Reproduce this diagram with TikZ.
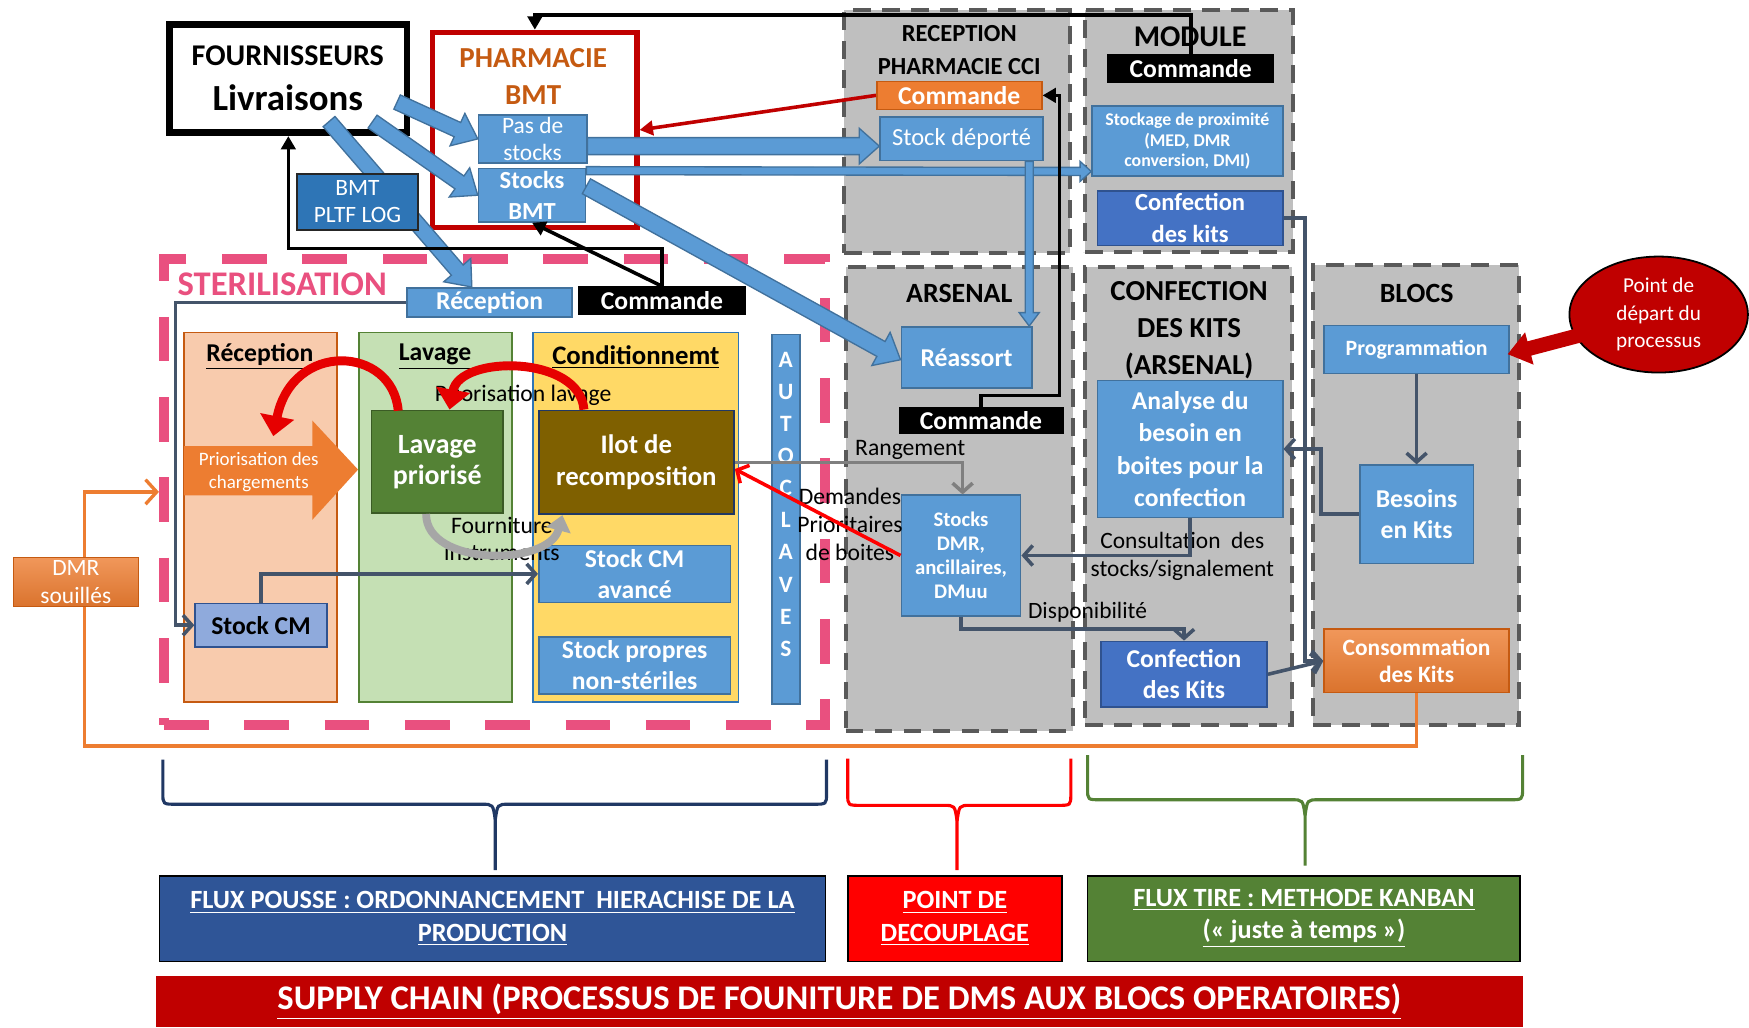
\documentclass[tikz,border=0pt]{standalone}
\usepackage{fontspec}
\setmainfont{Carlito}
\usetikzlibrary{arrows.meta,shapes.geometric,calc}
\definecolor{lblue}{HTML}{5B9BD5}
\definecolor{lbb}{HTML}{41719C}
\definecolor{dblue}{HTML}{4472C4}
\definecolor{dbb}{HTML}{2F528F}
\definecolor{mblue}{HTML}{2E75B6}
\definecolor{lgray}{HTML}{BFBFBF}
\definecolor{dgray}{HTML}{595959}
\definecolor{pinkc}{HTML}{E9507F}
\definecolor{orng}{HTML}{ED7D31}
\definecolor{orngd}{HTML}{C55A11}
\definecolor{slate}{HTML}{44546A}
\definecolor{dred}{HTML}{C00000}
\definecolor{brred}{HTML}{E60000}
\definecolor{grn}{HTML}{548235}
\definecolor{olive}{HTML}{7F6000}
\definecolor{peach}{HTML}{F8CBAD}
\definecolor{lgreen}{HTML}{C5E0B4}
\definecolor{yel}{HTML}{FFD966}
\definecolor{cmblue}{HTML}{8FAADC}
\definecolor{navyb}{HTML}{2F5597}
\definecolor{navyl}{HTML}{203864}
\definecolor{midgray}{HTML}{7F7F7F}
\definecolor{lgrayarr}{HTML}{A6A6A6}
\newcommand\fz[2]{\fontsize{#1}{#2}\selectfont}
\newcommand\bnode[6]{\node[#1, minimum width={(#4-#2)*0.5pt}, minimum height={(#5-#3)*0.5pt}] (#6) at ({(#2+#4)/2},{(#3+#5)/2})}
\newcommand\blockarr[6]{%
 \coordinate (baS) at #1; \coordinate (baE) at #2;
 \coordinate (baH) at ($(baE)!#5!(baS)$);
 \path[#6] ($(baS)!#3!90:(baE)$) -- ($(baH)!#3!90:(baE)$) -- ($(baH)!#4!90:(baE)$) -- (baE) -- ($(baH)!#4!-90:(baE)$) -- ($(baH)!#3!-90:(baE)$) -- ($(baS)!#3!-90:(baE)$) -- cycle;}
\newcommand\mybrace[7]{%
 \draw[#1, line width=1.4pt] (#2,#5) -- (#2,#6-10) .. controls (#2,#6) .. (#2+12,#6) -- (#4-12,#6) .. controls (#4-2,#6) .. (#4,#6+14) -- (#4,#7);
 \draw[#1, line width=1.4pt] (#3,#5) -- (#3,#6-10) .. controls (#3,#6) .. (#3-12,#6) -- (#4+12,#6) .. controls (#4+2,#6) .. (#4,#6+14);}
\begin{document}
\begin{tikzpicture}[x=0.5pt,y=-0.5pt,
 bx/.style={draw=lbb, fill=lblue, line width=0.7pt, inner sep=0pt, align=center, text=white},
 dbx/.style={bx, draw=dbb, fill=dblue},
 grp/.style={draw=dgray, fill=lgray, line width=1.8pt, dash pattern=on 8pt off 5pt, inner sep=0pt},
 colbox/.style={line width=0.8pt, inner sep=0pt, align=center},
 ttl/.style={align=center, inner sep=0pt, font=\bfseries},
 lbl/.style={align=center, inner sep=0pt},
 blkbox/.style={fill=black, draw=black, inner sep=0pt, text=white, font=\bfseries\fz{11.5}{13}},
 blk/.style={draw=black, line width=1.6pt, -{Triangle[length=6pt,width=6.5pt]}},
 redc/.style={draw=dred, line width=1.6pt, -{Triangle[length=6pt,width=6.5pt]}},
 sl/.style={draw=slate, line width=1.6pt, -{Straight Barb[length=4pt,width=9pt]}},
 gr/.style={draw=midgray, line width=1.6pt, -{Straight Barb[length=4pt,width=9pt]}},
 redt/.style={draw=red, line width=1.6pt, -{Straight Barb[length=4pt,width=9pt]}},
 orl/.style={draw=orng, line width=1.5pt, -{Straight Barb[length=5pt,width=11pt]}},
 curvr/.style={draw=brred, line width=4pt, -{Triangle[length=9pt,width=15pt]}},
 curvg/.style={draw=lgrayarr, line width=3.5pt, -{Triangle[length=7pt,width=11pt]}},
 bluearr/.style={draw=lbb, fill=lblue, line width=0.6pt},
 bigbox/.style={draw=black, line width=0.8pt, inner sep=0pt, text=white, align=center, font=\bfseries\fz{11.8}{14.5}}]
\useasboundingbox (0,0) rectangle (1568,921);
\fill[white] (0,0) rectangle (1568,921);
% gray groups
\bnode{grp}{757}{9}{959}{227}{recg} {};
\bnode{grp}{973}{9}{1159}{226}{modg} {};
\bnode{grp}{758}{239}{962}{655}{arsg} {};
\bnode{grp}{973}{239}{1158}{650}{cong} {};
\bnode{grp}{1177}{238}{1362}{650}{blog} {};
% sterilisation
\bnode{draw=pinkc, line width=4.5pt, dash pattern=on 20pt off 16pt, inner sep=0pt}{147}{232}{740}{650}{steril} {};
\bnode{colbox, draw=orngd, fill=peach}{165}{298}{302}{629}{colrec} {};
\bnode{colbox, draw=grn, fill=lgreen}{322}{298}{459}{629}{collav} {};
\bnode{colbox, draw=mblue, fill=yel}{478}{298}{662}{629}{colcon} {};
\bnode{bx}{692}{300}{717}{631}{autoc} {};
\node[lbl, text=white, font=\bfseries\fz{10.5}{14.4}] (autot) at (704.5,452) {A\\U\\T\\O\\C\\L\\A\\V\\E\\S};
\node[ttl, font=\bfseries\fz{11.5}{13}] (trecep) at (233,320) {\underline{Réception}};
\node[ttl, font=\bfseries\fz{11.5}{13}] (tlav) at (390,320) {\underline{Lavage}};
\node[ttl, font=\bfseries\fz{12}{13}] (tcond) at (570,320) {\underline{Conditionnemt}};
\fill[orng] (165,400) -- (280,400) -- (280,377) -- (321,421) -- (280,466) -- (280,444) -- (165,444) -- cycle;
\node[lbl, text=white, font=\fz{8.5}{10.5}] (priot) at (232,423) {Priorisation des\\chargements};
\bnode{colbox, draw=grn!70!black, fill=grn, text=white, font=\bfseries\fz{12.5}{14}}{333}{368}{451}{460}{lavp} {Lavage\\priorisé};
\bnode{colbox, draw=navyl, fill=olive, text=white, font=\bfseries\fz{12}{14.5}}{483}{368}{658}{461}{ilot} {Ilot de\\recomposition};
\bnode{bx, font=\bfseries\fz{11.5}{14}}{483}{489}{655}{540}{stockcma} {Stock CM\\avancé};
\bnode{bx, font=\bfseries\fz{11.5}{14}}{483}{571}{655}{622}{stockpr} {Stock propres\\non-stériles};
\bnode{colbox, draw=dbb, fill=cmblue, font=\bfseries\fz{11.5}{14}}{175}{541}{293}{580}{stockcm} {Stock CM};
\node[lbl, font=\fz{10.6}{12}] (lprio) at (469,354) {Priorisation lavage};
\node[lbl, font=\fz{10.6}{12.2}] (lfourn) at (450,483) {Fourniture\\instruments};
% top left
\bnode{draw=black, line width=3pt, fill=white, inner sep=0pt}{152}{22}{365}{119}{fourn} {};
\node[ttl, font=\bfseries\fz{13.5}{15}] (tfourn) at (258,50) {FOURNISSEURS};
\node[ttl, font=\bfseries\fz{16.5}{19}] (tliv) at (258,88) {Livraisons};
\bnode{draw=dred, line width=2.4pt, inner sep=0pt}{388}{29}{571}{204}{pharma} {};
\node[ttl, text=orngd, font=\bfseries\fz{13}{15}] (tphar) at (478,52) {PHARMACIE};
\node[ttl, text=orngd, font=\bfseries\fz{13}{15}] (tbmt) at (478,85) {BMT};
\bnode{bx, font=\fz{10.5}{12}}{429}{103}{526}{146}{pas} {Pas de\\stocks};
\bnode{bx, font=\bfseries\fz{11}{14}}{429}{151}{525}{199}{stocksbmt} {Stocks\\BMT};
\bnode{bx, font=\bfseries\fz{11.5}{13}}{365}{258}{513}{284}{rect} {Réception};
\bnode{blkbox}{519}{257}{668}{282}{cmds} {Commande};
\node[ttl, text=pinkc, font=\bfseries\fz{15.5}{17}] (tster) at (253,255) {STERILISATION};
% top right
\node[ttl, font=\bfseries\fz{11}{14.5}] (trec2) at (860,45) {RECEPTION\\PHARMACIE CCI};
\bnode{draw=orngd, fill=orng, line width=0.7pt, inner sep=0pt, text=white, font=\bfseries\fz{11.5}{13}}{786}{73}{934}{98}{cmdo} {Commande};
\bnode{bx, font=\fz{11}{13}}{789}{105}{935}{144}{stockdep} {Stock déporté};
\node[ttl, font=\bfseries\fz{13.5}{15}] (tmod) at (1067,33) {MODULE};
\bnode{blkbox}{993}{49}{1142}{74}{cmdm} {Commande};
\bnode{bx, font=\bfseries\fz{8}{9.3}}{979}{95}{1150}{158}{stockprox} {Stockage de proximité\\(MED, DMR\\conversion, DMI)};
\bnode{dbx, font=\bfseries\fz{11}{14}}{984}{171}{1150}{220}{confm} {Confection\\des kits};
% arsenal
\node[ttl, font=\bfseries\fz{12.5}{15}] (tars) at (860,263) {ARSENAL};
\bnode{bx, font=\bfseries\fz{11.5}{13}}{808}{293}{925}{348}{reass} {Réassort};
\bnode{blkbox}{806}{365}{953}{389}{cmda} {Commande};
\bnode{bx, font=\bfseries\fz{9.3}{10.8}}{808}{444}{915}{552}{stocksdmr} {Stocks\\DMR,\\ancillaires,\\DMuu};
\node[lbl, font=\fz{10.6}{12}] (lrang) at (816,403) {Rangement};
\node[lbl, font=\fz{10.6}{12.5}] (ldem) at (762,470) {Demandes\\Prioritaires\\de boites};
% confection
\node[ttl, font=\bfseries\fz{13}{16.5}] (tconf) at (1066,296) {CONFECTION\\DES KITS\\(ARSENAL)};
\bnode{bx, font=\bfseries\fz{11.5}{14.5}}{984}{341}{1150}{464}{analyse} {Analyse du\\besoin en\\boites pour la\\confection};
\bnode{dbx, font=\bfseries\fz{11.5}{14}}{987}{575}{1136}{634}{confk} {Confection\\des Kits};
\node[lbl, font=\fz{10.5}{12.5}] (lcons) at (1060,499) {Consultation~ des\\stocks/signalement};
\node[lbl, font=\fz{10.5}{12}] (ldispo) at (975,549) {Disponibilité};
% blocs
\node[ttl, font=\bfseries\fz{12.5}{15}] (tblocs) at (1270,263) {BLOCS};
\bnode{bx, font=\bfseries\fz{9.8}{12}}{1187}{292}{1353}{335}{prog} {Programmation};
\bnode{bx, font=\bfseries\fz{11.5}{14}}{1219}{417}{1321}{505}{besoins} {Besoins\\en Kits};
\bnode{draw=orngd, top color=orng!80!white, bottom color=orng!92!black, line width=0.7pt, inner sep=0pt, text=white, align=center, font=\bfseries\fz{10.5}{12}}{1187}{564}{1353}{621}{conso} {Consommation\\des Kits};
\node[ellipse, draw=black, line width=0.8pt, fill=dred, minimum width=80pt, minimum height=52pt, inner sep=0pt, text=white, align=center, font=\fz{9.5}{12.3}] (ptdep) at (1487,282) {Point de\\départ du\\processus};
% block arrows
\blockarr{($(fourn.east)+(-12,21)$)}{(pas.west)}{3.5pt}{8pt}{10pt}{bluearr}
\blockarr{($(fourn.south east)+(-34,-13)$)}{(stocksbmt.west)}{3.5pt}{8pt}{10pt}{bluearr}
\blockarr{($(fourn.south east)+(-73,-13)$)}{($(rect.north)+(-16,0)$)}{3.5pt}{8pt}{10pt}{bluearr}
\bnode{draw=black!85, fill=mblue, line width=0.9pt, inner sep=0pt, text=white, align=center, font=\fz{10.5}{12}}{266}{156}{375}{206}{bmtlog} {BMT\\PLTF LOG};
\blockarr{($(pas.east)+(0,6.5)$)}{($(stockdep.west)+(0,6.5)$)}{3.8pt}{8pt}{9pt}{bluearr}
\blockarr{($(stocksbmt.east)+(0,-22)$)}{($(stockprox.south west)+(0,-5)$)}{1.8pt}{4.5pt}{5pt}{bluearr}
\blockarr{($(stocksbmt.east)+(0,-8)$)}{($(reass.west)+(0,2)$)}{3.8pt}{8.5pt}{10pt}{bluearr}
\blockarr{($(stockdep.south east)+(-13,0)$)}{($(reass.north east)+(-3,0)$)}{1.8pt}{4.5pt}{6pt}{bluearr}
\blockarr{($(ptdep.west)+(12,18)$)}{($(prog.east)+(-2,4)$)}{3.3pt}{7.5pt}{10pt}{fill=dred}
% connectors
\draw[blk] (cmds.north) -- ++(0,-34) -| (fourn.south);
\draw[blk] (cmds.north) -- (stocksbmt.south);
\draw[blk] (cmdm.north) -- ++(0,-35) -| (pharma.north);
\draw[blk] (cmda.north) -- ++(0,-10) -| ($(cmdo.east)+(15,0)$) -- (cmdo.east);
\draw[redc] (cmdo.west) -- (pharma.east);
\draw[sl] (rect.west) -| ($(stockcm.west)+(-17,0)$) -- (stockcm.west);
\draw[sl] (stockcm.north) |- (stockcma.west);
\draw[gr] (ilot.east) -| ($(stocksdmr.north)+(1.5,0)$);
\draw[redt] (stocksdmr.west) -- ($(ilot.east)+(0,6)$);
\draw[sl] (analyse.south) |- (stocksdmr.east);
\draw[sl] (stocksdmr.south) -- ++(0,11) -| (confk.north);
\draw[sl] (prog.south) -- (besoins.north);
\draw[sl] (besoins.west) -- ++(-34,0) |- (analyse.east);
\draw[sl] (confk.east) -- (conso.west);
\draw[sl] (confm.east) -- ++(19,0) |- (conso.west);
\draw[curvr] ($(lavp.north)+(-35,1)$) .. controls (352,310) and (262,305) .. (245,391);
\draw[curvr] ($(ilot.north)+(-47,0)$) .. controls (520,318) and (412,318) .. ($(lavp.north)+(11,0)$);
\draw[curvg] ($(lavp.south)+(-10,0)$) .. controls (382,508) and (492,508) .. ($(ilot.south west)+(22,0)$);
\draw[orl] (conso.south) -- ++(0,47) -| ($(steril.west)+(-67,0)$) -- (steril.west);
\bnode{draw=orngd, top color=orng!80!white, bottom color=orng!92!black, line width=0.5pt, inner sep=0pt, text=white, align=center, font=\fz{10.5}{12.5}}{12}{500}{124}{544}{dmr} {DMR\\souillés};
% braces and bottom boxes
\mybrace{navyl}{146}{741}{444}{681}{721}{780}
\mybrace{red}{760}{960}{858}{680}{722}{780}
\mybrace{grn}{975}{1365}{1170}{677}{717}{776}
\bnode{bigbox, fill=navyb}{143}{785}{740}{862}{fluxp} {\underline{FLUX POUSSE : ORDONNANCEMENT~~HIERACHISE DE LA}\\\underline{PRODUCTION}};
\bnode{bigbox, fill=red}{760}{785}{952}{862}{pointd} {\underline{POINT DE}\\\underline{DECOUPLAGE}};
\bnode{bigbox, fill=grn}{975}{785}{1363}{862}{fluxt} {\underline{FLUX TIRE : METHODE KANBAN}\\\underline{(« juste à temps »)}};
\bnode{fill=dred, inner sep=0pt, text=white, font=\bfseries\fz{15.5}{17}}{140}{875}{1365}{921}{supply} {\underline{SUPPLY CHAIN (PROCESSUS DE FOUNITURE DE DMS AUX BLOCS OPERATOIRES)}};
\end{tikzpicture}
\end{document}
